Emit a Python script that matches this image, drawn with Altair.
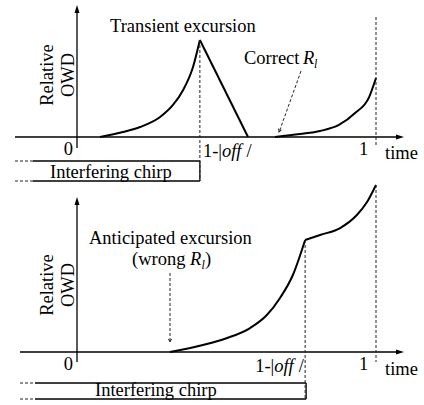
import altair as alt
import pandas as pd

# ------------------------------------------------------------------
# Data: relative OWD (units of the top panel's peak) vs time (chirp units)
# ------------------------------------------------------------------
top_rise_t   = [0.077, 0.154, 0.211, 0.278, 0.321, 0.355, 0.388, 0.411]
top_rise_owd = [0.000, 0.052, 0.103, 0.206, 0.330, 0.485, 0.722, 1.000]
top_fall_t   = [0.411, 0.572]
top_fall_owd = [1.000, 0.000]
top_next_t   = [0.662, 0.746, 0.813, 0.876, 0.930, 0.977, 1.000]
top_next_owd = [0.000, 0.031, 0.062, 0.124, 0.247, 0.412, 0.608]

bot_rise_t   = [0.311, 0.421, 0.502, 0.579, 0.635, 0.679, 0.722, 0.763]
bot_rise_owd = [0.000, 0.072, 0.144, 0.247, 0.381, 0.557, 0.794, 1.155]
bot_next_t   = [0.763, 0.813, 0.880, 0.936, 0.970, 1.000]
bot_next_owd = [1.155, 1.206, 1.278, 1.412, 1.546, 1.722]

chirp_end_top = 0.411   # 1-|off| in the top scenario
chirp_end_bot = 0.763   # 1-|off| in the bottom scenario

# ------------------------------------------------------------------
# Layout (pixels)
# ------------------------------------------------------------------
W, H = 424, 405
T0_PX, T1_PX = 77, 376
UNIT_PX = 97
TOP_BASE, BOT_BASE = 137, 352          # pixel rows of OWD = 0 in each panel
FONT = "'Liberation Serif', 'Times New Roman', Times, serif"
FS = 18.5


def tx(px):
    return (px - T0_PX) / (T1_PX - T0_PX)


def fy(py):
    return (H - py) / UNIT_PX


def tp(t):
    return T0_PX + t * (T1_PX - T0_PX)


def owd_to_fig(v, base):
    return v + fy(base)


curve_rows = []
segments = [(top_rise_t, top_rise_owd, TOP_BASE), (top_fall_t, top_fall_owd, TOP_BASE),
            (top_next_t, top_next_owd, TOP_BASE), (bot_rise_t, bot_rise_owd, BOT_BASE),
            (bot_next_t, bot_next_owd, BOT_BASE)]
for k, (ts, vs, base) in enumerate(segments):
    for i, (t, v) in enumerate(zip(ts, vs)):
        curve_rows.append({"t": t, "y": owd_to_fig(v, base), "seg": k, "i": i})
curves = pd.DataFrame(curve_rows)

ct = tp(chirp_end_top)
cb = tp(chirp_end_bot)

solid_lines = [
    (77, 148, 77, 10), (15, 137, 400, 137),
    (33, 161, ct, 161), (33, 181, ct, 181), (ct, 161, ct, 181),
    (77, 362, 77, 202), (20, 352, 400, 352),
    (35, 383, cb + 1, 383), (35, 399, cb + 1, 399), (cb + 1, 383, cb + 1, 399),
]
dashed_lines = [
    (15, 161, 33, 161), (15, 181, 33, 181),
    (ct, 40, ct, 181), (376, 17, 376, 147), (301, 71, 279.5, 131),
    (20, 383, 35, 383), (20, 399, 35, 399),
    (cb, 240, cb, 400), (376, 185, 376, 362), (170, 273, 170, 341),
]
arrows_up = [(77, 5), (77, 197)]
arrows_right = [(404, 137), (404, 352)]
open_heads = [(279, 132, 20), (170, 342, 0)]

texts = {
    ("normal", "left"): [
        (110, 32, "Transient excursion"), (244, 64, "Correct"),
        (50, 178, "Interfering chirp"), (385, 159, "time"),
        (ct + 3, 157, "1-|"), (ct + 46.5, 157, "/"),
        (89, 244, "Anticipated excursion"), (132, 265, "(wrong"),
        (205, 265, ")"), (95, 396, "Interfering chirp"),
        (385, 375, "time"), (cb - 50, 372, "1-|"), (cb - 6.5, 372, "/"),
    ],
    ("italic", "left"): [(303, 64, "R"), (ct + 22, 157, "off"),
                         (190, 265, "R"), (cb - 31, 372, "off")],
    ("sub", "left"): [(314, 68, "l"), (201.5, 269, "l")],
    ("normal", "right"): [(73, 155, "0"), (73, 370, "0")],
    ("normal", "center"): [(363.5, 155, "1"), (363.5, 370, "1")],
    ("rot", "center"): [(53, 75, "Relative"), (74, 75, "OWD"),
                        (53, 285, "Relative"), (74, 285, "OWD")],
}

xs = alt.Scale(domain=[tx(0), tx(W)], nice=False, zero=False)
ys = alt.Scale(domain=[fy(H), fy(0)], nice=False, zero=False)


def X(f):
    return alt.X(f, type="quantitative", scale=xs, axis=None)


def Y(f):
    return alt.Y(f, type="quantitative", scale=ys, axis=None)


def rules(lines):
    return pd.DataFrame([{"x": tx(a), "x2": tx(b), "y": fy(c), "y2": fy(d)} for a, c, b, d in lines])


def pts(p):
    return pd.DataFrame([{"x": tx(a), "y": fy(b)} for a, b in p])


layers = [
    alt.Chart(curves).mark_line(color="black", strokeWidth=2, interpolate="monotone").encode(
        x=X("t"), y=Y("y"), detail="seg:N", order="i:Q"),
    alt.Chart(rules(solid_lines)).mark_rule(color="black", strokeWidth=1.3).encode(
        x=X("x"), x2="x2", y=Y("y"), y2="y2"),
    alt.Chart(rules(dashed_lines)).mark_rule(color="#222", strokeWidth=1, strokeDash=[3, 2]).encode(
        x=X("x"), x2="x2", y=Y("y"), y2="y2"),
    alt.Chart(pts(arrows_up)).mark_point(shape="M0,0L-1,3.2L1,3.2Z", filled=True, size=25,
                                         color="black", opacity=1).encode(x=X("x"), y=Y("y")),
    alt.Chart(pts(arrows_right)).mark_point(shape="M0,0L-3.2,-1L-3.2,1Z", filled=True, size=25,
                                            color="black", opacity=1).encode(x=X("x"), y=Y("y")),
]
for a, b, ang in open_heads:
    layers.append(alt.Chart(pts([(a, b)])).mark_point(
        shape="M-1,-2L0,0L1,-2", filled=False, size=9, strokeWidth=1, color="#222", opacity=1,
        angle=ang).encode(x=X("x"), y=Y("y")))

for (kind, align), items in texts.items():
    props = dict(font=FONT, fontSize=FS, align=align, baseline="alphabetic", color="black")
    if kind == "italic":
        props["fontStyle"] = "italic"
    elif kind == "sub":
        props["fontStyle"] = "italic"
        props["fontSize"] = 12
    elif kind == "rot":
        props["angle"] = 270
    df = pd.DataFrame([{"x": tx(a), "y": fy(b), "text": s} for a, b, s in items])
    layers.append(alt.Chart(df).mark_text(**props).encode(x=X("x"), y=Y("y"), text="text:N"))

chart = (
    alt.layer(*layers)
    .properties(width=W, height=H, padding=0, autosize=alt.AutoSizeParams(type="none"))
    .configure_view(stroke=None)
)
chart.save("out.html", embed_options={"renderer": "svg", "actions": False})
